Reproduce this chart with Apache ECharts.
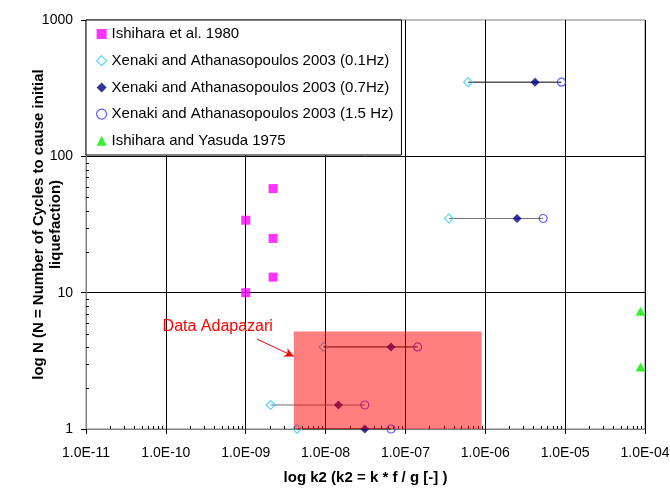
<!DOCTYPE html>
<html><head><meta charset="utf-8">
<script src="https://cdn.jsdelivr.net/npm/echarts@6/dist/echarts.min.js"></script>
<style>html,body{margin:0;padding:0;background:#fff}#c{width:670px;height:490px}</style>
</head><body><div id="c"></div>
<script>
// ---- data ----
const ishiharaK = [1e-9, 2.2e-9, 2.2e-9, 2.2e-9, 1e-9];
const ishiharaN = [34, 58, 25, 13, 10];
const xenakiN   = [350, 35, 4, 1.5, 1];
const xenakiK01 = [6.1e-7, 3.5e-7, 9.4e-9, 2.05e-9, 4.4e-9];
const xenakiK07 = [4.2e-6, 2.5e-6, 6.6e-8, 1.45e-8, 3.1e-8];
const xenakiK15 = [9.0e-6, 5.3e-6, 1.42e-7, 3.1e-8, 6.6e-8];
const yasudaK = [8.8e-5, 8.8e-5];
const yasudaN = [7.3, 2.85];
const adapazariBox = [4e-9, 1, 9e-7, 5.2]; // kMin, nMin, kMax, nMax
const adapazariLabel = [9.1e-11, 5.66];
const adapazariArrowFrom = [1.38e-9, 4.57];
const adapazariArrowTo = [3.98e-9, 3.41];
const xDecades = [-11, -10, -9, -8, -7, -6, -5];
const yDecades = [0, 1, 2];
const minorMultipliers = [2, 3, 4, 5, 6, 7, 8, 9];

const names = ['Ishihara et al. 1980',
  'Xenaki and Athanasopoulos 2003 (0.1Hz)',
  'Xenaki and Athanasopoulos 2003 (0.7Hz)',
  'Xenaki and Athanasopoulos 2003 (1.5 Hz)',
  'Ishihara and Yasuda 1975'];

const zip = (a, b) => a.map((v, i) => [v, b[i]]);
const rowLineColors = ['#000000', '#707070', '#000000', '#707070', '#000000'];

const xMinor = [];
xDecades.forEach(d => minorMultipliers.forEach(m => xMinor.push([m * Math.pow(10, d), 1])));
const yMinor = [];
yDecades.forEach(d => minorMultipliers.forEach(m => yMinor.push([1e-11, m * Math.pow(10, d)])));

const FONT = '"Liberation Sans", Arial, sans-serif';
const fmtX = v => {
  const e = Math.round(Math.log10(v));
  const a = Math.abs(e);
  return '1.0E' + (e < 0 ? '-' : '+') + (a < 10 ? '0' + a : a);
};
const fmtY = v => String(Math.round(v));

const series = [];
xenakiN.forEach((n, i) => {
  series.push({
    type: 'line', silent: true, symbol: 'none', z: 2,
    data: [[xenakiK01[i], n], [xenakiK15[i], n]],
    lineStyle: { color: rowLineColors[i], width: 1 }
  });
});
series.push({
  name: names[0], type: 'scatter', symbol: 'rect', symbolSize: 9, z: 3,
  itemStyle: { color: '#FF00FF' }, data: zip(ishiharaK, ishiharaN)
});
series.push({
  name: names[1], type: 'scatter', symbol: 'diamond', symbolSize: 9, z: 3,
  itemStyle: { color: 'rgba(255,255,255,0)', borderColor: '#33CCFF', borderWidth: 1.2 },
  data: zip(xenakiK01, xenakiN)
});
series.push({
  name: names[2], type: 'scatter', symbol: 'diamond', symbolSize: 9, z: 3,
  itemStyle: { color: '#000080' }, data: zip(xenakiK07, xenakiN)
});
series.push({
  name: names[3], type: 'scatter', symbol: 'circle', symbolSize: 8, z: 3,
  itemStyle: { color: 'rgba(255,255,255,0)', borderColor: '#3333FF', borderWidth: 1.2 },
  data: zip(xenakiK15, xenakiN)
});
series.push({
  name: names[4], type: 'scatter', symbol: 'triangle', symbolSize: [10, 9], z: 3,
  itemStyle: { color: '#00EE00' }, data: zip(yasudaK, yasudaN)
});
series.push({
  type: 'custom', silent: true, z: 10,
  encode: { x: [0, 2], y: [1, 3] },
  data: [adapazariBox],
  renderItem: (params, api) => {
    const p1 = api.coord([api.value(0), api.value(3)]);
    const p2 = api.coord([api.value(2), api.value(1)]);
    return { type: 'rect', shape: { x: p1[0], y: p1[1], width: p2[0] - p1[0], height: p2[1] - p1[1] },
      style: { fill: 'rgba(255,0,0,0.5)' } };
  }
});
series.push({
  type: 'custom', silent: true, z: 1, clip: false,
  data: xMinor,
  renderItem: (params, api) => {
    const p = api.coord([api.value(0), api.value(1)]);
    const x = Math.round(p[0]) + 0.5;
    return { type: 'line', shape: { x1: x, y1: p[1], x2: x, y2: p[1] - 3 }, style: { stroke: '#000', lineWidth: 1 } };
  }
});
series.push({
  type: 'custom', silent: true, z: 1, clip: false,
  data: yMinor,
  renderItem: (params, api) => {
    const p = api.coord([api.value(0), api.value(1)]);
    const y = Math.round(p[1]) + 0.5;
    return { type: 'line', shape: { x1: p[0], y1: y, x2: p[0] + 3, y2: y }, style: { stroke: '#000', lineWidth: 1 } };
  }
});
series.push({
  type: 'line', data: [], silent: true, z: 11,
  markLine: {
    silent: true, symbol: ['none', 'arrow'], symbolSize: [7, 9],
    lineStyle: { color: '#FF0000', width: 1, type: 'solid' },
    label: { show: false },
    data: [[{ coord: adapazariArrowFrom }, { coord: adapazariArrowTo }]]
  },
  markPoint: {
    silent: true, symbol: 'circle', symbolSize: 0,
    label: { show: true, position: 'right', distance: 0, formatter: 'Data Adapazari',
      color: '#FF0000', fontSize: 16, fontFamily: FONT },
    data: [{ coord: adapazariLabel }]
  }
});

const chart = echarts.init(document.getElementById('c'), null, { renderer: 'canvas' });
chart.setOption({
  animation: false,
  backgroundColor: '#fff',
  textStyle: { fontFamily: FONT },
  grid: { left: 86, top: 20, width: 559, height: 409, containLabel: false, outerBoundsMode: 'none',
    show: true, borderColor: '#808080', borderWidth: 1, backgroundColor: 'transparent' },
  legend: {
    orient: 'vertical', left: 86, top: 20, z: 20,
    itemWidth: 10, itemHeight: 10, itemGap: 11.7,
    padding: [6.5, 8, 6.7, 10],
    borderColor: '#000', borderWidth: 1, backgroundColor: '#fff', borderRadius: 0,
    textStyle: { fontSize: 15, color: '#000', lineHeight: 15, fontFamily: FONT },
    data: [
      { name: names[0], icon: 'rect', itemStyle: { color: '#FF00FF', borderWidth: 0 } },
      { name: names[1], icon: 'diamond', itemStyle: { color: 'rgba(255,255,255,0)', borderColor: '#33CCFF', borderWidth: 1.2 } },
      { name: names[2], icon: 'diamond', itemStyle: { color: '#000080', borderWidth: 0 } },
      { name: names[3], icon: 'circle', itemStyle: { color: 'rgba(255,255,255,0)', borderColor: '#3333FF', borderWidth: 1.2 } },
      { name: names[4], icon: 'triangle', itemStyle: { color: '#00EE00', borderWidth: 0 } }
    ]
  },
  xAxis: {
    type: 'log', logBase: 10, min: 1e-11, max: 1e-4,
    name: 'log k2 (k2 = k * f / g [-] )', nameLocation: 'middle', nameGap: 41, nameMoveOverlap: false,
    nameTextStyle: { fontWeight: 'bold', fontSize: 15, color: '#000', fontFamily: FONT },
    axisLine: { lineStyle: { color: '#808080', width: 1 } },
    axisTick: { show: true, length: 5, lineStyle: { color: '#000' } },
    axisLabel: { formatter: fmtX, fontSize: 14, color: '#000', margin: 17, fontFamily: FONT, hideOverlap: false },
    splitLine: { show: true, showMinLine: false, showMaxLine: false, lineStyle: { color: '#000', width: 1 } }
  },
  yAxis: {
    type: 'log', logBase: 10, min: 1, max: 1000,
    name: 'log N (N = Number of Cycles to cause initial\nliquefaction)',
    nameLocation: 'middle', nameRotate: 90, nameGap: 21.5, nameMoveOverlap: false,
    nameTextStyle: { fontWeight: 'bold', fontSize: 15, color: '#000', lineHeight: 17, align: 'center', fontFamily: FONT },
    axisLine: { show: true, lineStyle: { color: '#808080', width: 1 } },
    axisTick: { show: true, length: 5, lineStyle: { color: '#000' } },
    axisLabel: { formatter: fmtY, fontSize: 14, color: '#000', margin: 13, fontFamily: FONT },
    splitLine: { show: true, showMinLine: false, showMaxLine: false, lineStyle: { color: '#000', width: 1 } }
  },
  series: series
});
</script>
</body></html>
